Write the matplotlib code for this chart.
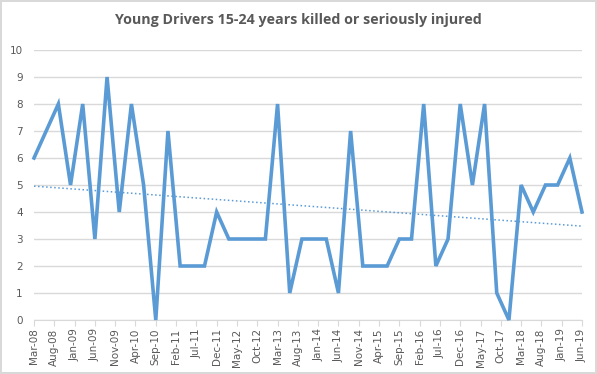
import matplotlib
matplotlib.use('Agg')
from matplotlib import pyplot as plt
import numpy as np

# quarterly counts, Mar-08 .. Jun-19
values = [6, 7, 8, 5, 8, 3, 9, 4, 8, 5, 0, 7, 2, 2, 2, 4,
          3, 3, 3, 3, 8, 1, 3, 3, 3, 1, 7, 2, 2, 2, 3, 3,
          8, 2, 3, 8, 5, 8, 1, 0, 5, 4, 5, 5, 6, 4]
months = np.arange(len(values)) * 3  # months since Mar-08

tick_labels = ['Mar-08', 'Aug-08', 'Jan-09', 'Jun-09', 'Nov-09', 'Apr-10', 'Sep-10',
               'Feb-11', 'Jul-11', 'Dec-11', 'May-12', 'Oct-12', 'Mar-13', 'Aug-13',
               'Jan-14', 'Jun-14', 'Nov-14', 'Apr-15', 'Sep-15', 'Feb-16', 'Jul-16',
               'Dec-16', 'May-17', 'Oct-17', 'Mar-18', 'Aug-18', 'Jan-19', 'Jun-19']
tick_pos = np.arange(len(tick_labels)) * 5

blue = '#5B9BD5'
grey = '#595959'
grid = '#D9D9D9'

fig = plt.figure(figsize=(5.97, 3.74), dpi=100)
fig.patch.set_edgecolor(grid)
fig.patch.set_linewidth(1.5)
ax = fig.add_axes([34/597, 1 - 320/374, 548/597, 270/374])

ax.plot(months, values, '-', color=blue, lw=2.6, solid_joinstyle='miter',
        zorder=3, clip_on=False)

# linear trendline
k, b = np.polyfit(months, values, 1)
ax.plot(months, k*months + b, ':', color=blue, lw=1.1, zorder=2)

ax.set_xlim(0, 135)
ax.set_ylim(0, 10)
ax.set_yticks(range(0, 11))
ax.set_xticks(tick_pos)
ax.set_xticklabels(tick_labels, rotation=90)
ax.tick_params(axis='x', colors=grey, labelsize=7.5, length=4, color=grid, pad=2)
ax.tick_params(axis='y', colors=grey, labelsize=7.5, length=0, pad=8)
ax.grid(axis='y', color=grid, lw=1)
ax.set_axisbelow(True)
for s in ['top', 'right', 'left']:
    ax.spines[s].set_visible(False)
ax.spines['bottom'].set_color(grid)

fig.text(0.5, 1 - 20/374, 'Young Drivers 15-24 years killed or seriously injured',
         ha='center', va='center', fontsize=10.3, fontweight='bold', color=grey,
         family='Open Sans')

fig.savefig('out.png', dpi=100)
